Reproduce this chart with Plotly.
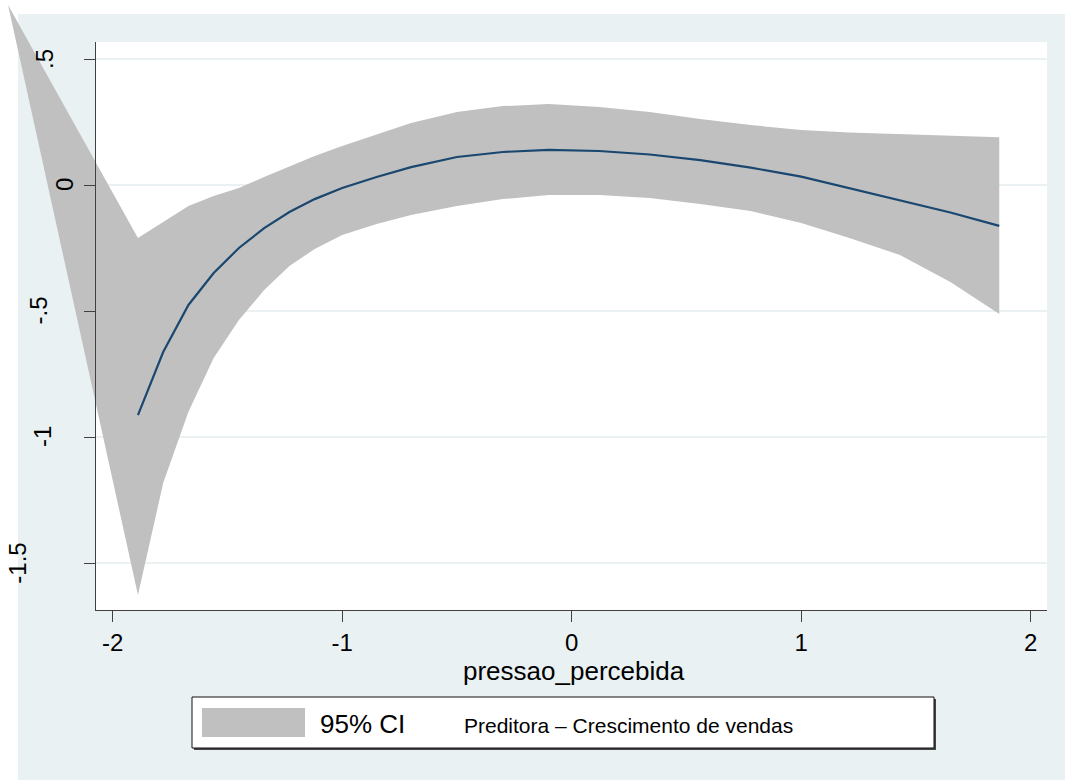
import plotly.graph_objects as go

# ---- data -------------------------------------------------------------
ci_x = [-2.456, -1.89, -1.78, -1.67, -1.56, -1.45, -1.34, -1.23, -1.12, -1.00,
        -0.85, -0.70, -0.50, -0.30, -0.10, 0.12, 0.34, 0.56, 0.78, 1.00,
        1.21, 1.43, 1.65, 1.863]
ci_upper = [0.714, -0.210, -0.147, -0.083, -0.044, -0.012, 0.032, 0.075, 0.115,
            0.155, 0.202, 0.246, 0.290, 0.313, 0.321, 0.310, 0.290, 0.262,
            0.238, 0.218, 0.208, 0.201, 0.194, 0.189]
ci_lower = [0.714, -1.627, -1.183, -0.900, -0.687, -0.536, -0.417, -0.321,
            -0.254, -0.198, -0.155, -0.119, -0.083, -0.056, -0.040, -0.040,
            -0.052, -0.075, -0.103, -0.151, -0.210, -0.278, -0.385, -0.512]

fit_x = ci_x[1:]
fit_y = [-0.913, -0.663, -0.476, -0.349, -0.250, -0.171, -0.107, -0.056,
         -0.012, 0.032, 0.071, 0.111, 0.131, 0.139, 0.135, 0.121, 0.099,
         0.069, 0.033, -0.012, -0.060, -0.109, -0.162]

x_tick_vals = [-2, -1, 0, 1, 2]
x_tick_text = ["-2", "-1", "0", "1", "2"]
y_tick_vals = [0.5, 0, -0.5, -1, -1.5]
y_tick_text = [".5", "0", "-.5", "-1", "-1.5"]

x_title = "pressao_percebida"
legend_labels = ["95% CI", "Preditora \u2013 Crescimento de vendas"]

# ---- styling / geometry (pixels) --------------------------------------
W, H = 1065, 780
FONT = "Liberation Sans, Arial, Helvetica, sans-serif"
OUTER_BG = "#E9F1F3"
GRID = "#E4EDEF"
BAND = "#C0C0C0"
NAVY = "#1A476F"
AXIS = "#404040"

# scale: pixel position of zero and pixels per unit
X0_PX, X_UNIT = 571.7, 229.5
Y0_PX, Y_UNIT = 185.0, 252.0
# plot region in pixels
PL, PR, PT, PB = 96, 1047, 42, 610


def px_to_x(px):
    return (px - X0_PX) / X_UNIT


def py_to_y(py):
    return (Y0_PX - py) / Y_UNIT


def xp(px):
    return px / W


def yp(py):
    return 1 - py / H


fig = go.Figure()

# confidence band as a closed polygon (full-canvas axes, so it is not clipped)
fig.add_trace(go.Scatter(
    x=ci_x + ci_x[::-1],
    y=ci_upper + ci_lower[::-1],
    fill="toself", fillcolor=BAND, mode="lines",
    line=dict(width=0, color=BAND),
    hoverinfo="skip", showlegend=False,
    xaxis="x", yaxis="y",
))
fig.add_trace(go.Scatter(
    x=fit_x, y=fit_y, mode="lines",
    line=dict(color=NAVY, width=2.2),
    showlegend=False, xaxis="x", yaxis="y",
))

shapes = [
    # graph region background
    dict(type="rect", xref="paper", yref="paper", x0=xp(18), x1=xp(W),
         y0=yp(H), y1=yp(14), fillcolor=OUTER_BG, line=dict(width=0), layer="below"),
    # white plot region
    dict(type="rect", xref="paper", yref="paper", x0=xp(PL), x1=xp(PR),
         y0=yp(PB), y1=yp(PT), fillcolor="white", line=dict(width=0), layer="below"),
]
for v in y_tick_vals:
    shapes.append(dict(type="line", xref="paper", yref="y2", x0=xp(PL), x1=xp(PR),
                       y0=v, y1=v, line=dict(color=GRID, width=1.6), layer="below"))

# legend box with shadow, swatch
shapes += [
    dict(type="rect", xref="paper", yref="paper", x0=xp(194), x1=xp(936),
         y0=yp(750), y1=yp(699), fillcolor="#444444", line=dict(width=0), layer="above"),
    dict(type="rect", xref="paper", yref="paper", x0=xp(192), x1=xp(934),
         y0=yp(748), y1=yp(697), fillcolor="white",
         line=dict(color="#111111", width=1), layer="above"),
    dict(type="rect", xref="paper", yref="paper", x0=xp(202), x1=xp(305),
         y0=yp(737), y1=yp(708), fillcolor=BAND, line=dict(width=0), layer="above"),
]

annotations = []
# rotated y tick labels
y_label_px = [44, 64, 37.5, 42, 16.7]
for v, t, cx in zip(y_tick_vals, y_tick_text, y_label_px):
    annotations.append(dict(text=t, x=xp(cx), y=v, xref="paper", yref="y2",
                            textangle=-90, showarrow=False, xanchor="center",
                            yanchor="middle", font=dict(family=FONT, size=24, color="black")))
annotations += [
    dict(text=x_title, x=xp(573.5), y=yp(671), xref="paper", yref="paper",
         showarrow=False, xanchor="center", yanchor="middle",
         font=dict(family=FONT, size=26, color="black")),
    dict(text=legend_labels[0], x=xp(318), y=yp(724), xref="paper", yref="paper",
         showarrow=False, xanchor="left", yanchor="middle",
         font=dict(family=FONT, size=26, color="black")),
    dict(text=legend_labels[1], x=xp(462), y=yp(725), xref="paper", yref="paper",
         showarrow=False, xanchor="left", yanchor="middle",
         font=dict(family=FONT, size=21, color="black")),
]

fig.update_layout(
    width=W, height=H,
    margin=dict(l=0, r=0, t=0, b=0, pad=0),
    paper_bgcolor="white", plot_bgcolor="rgba(0,0,0,0)",
    template="none",
    showlegend=False,
    shapes=shapes, annotations=annotations,
    # full-canvas axes carrying the data
    xaxis=dict(domain=[0, 1], range=[px_to_x(0), px_to_x(W)], visible=False,
               fixedrange=True, automargin=False),
    yaxis=dict(domain=[0, 1], range=[py_to_y(H), py_to_y(0)], visible=False,
               fixedrange=True, automargin=False),
    # visible axes on the plot region
    xaxis2=dict(domain=[xp(PL), xp(PR)], range=[px_to_x(PL), px_to_x(PR)],
                anchor="y2", showline=True, linecolor=AXIS, linewidth=1.3,
                ticks="outside", ticklen=11, tickwidth=1.3, tickcolor=AXIS,
                tickvals=x_tick_vals, ticktext=x_tick_text,
                tickfont=dict(family=FONT, size=24, color="black"),
                showgrid=False, zeroline=False, fixedrange=True, automargin=False),
    yaxis2=dict(domain=[yp(PB), yp(PT)], range=[py_to_y(PB), py_to_y(PT)],
                anchor="x2", showline=True, linecolor=AXIS, linewidth=1.3,
                ticks="outside", ticklen=11, tickwidth=1.3, tickcolor=AXIS,
                tickvals=y_tick_vals, showticklabels=False,
                showgrid=False, zeroline=False, fixedrange=True, automargin=False),
)

fig.write_html("out.html", config={"displayModeBar": False})
